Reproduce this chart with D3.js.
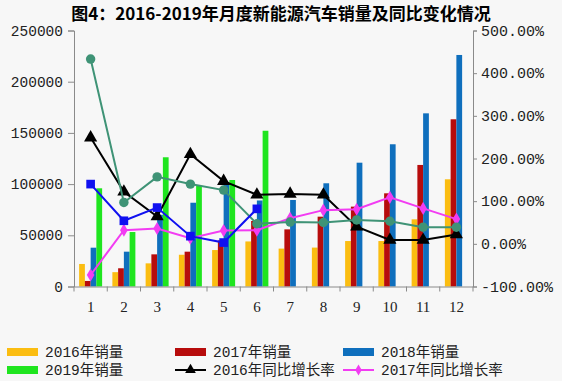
<!DOCTYPE html>
<html>
<head>
<meta charset="utf-8">
<script src="https://cdnjs.cloudflare.com/ajax/libs/d3/7.8.5/d3.min.js"></script>
<style>
    body { margin: 0; background: #f7f7f7; }
    .axis path, .axis line { stroke: #8a8a8a; }
    .axis text { fill: #222; }
</style>
</head>
<body>
<div id="chart"></div>
<script>
const months = ["1", "2", "3", "4", "5", "6", "7", "8", "9", "10", "11", "12"];
const sales2016 = [22000, 14000, 22600, 31000, 35600, 44000, 37000, 38000, 44400, 44400, 65600, 104700];
const sales2017 = [5400, 17800, 31400, 34000, 45000, 64000, 55800, 68200, 78000, 91000, 118700, 163300];
const sales2018 = [37900, 34000, 70000, 81800, 102000, 84000, 84500, 100800, 120900, 138900, 169100, 226100];
const sales2019 = [95900, 53200, 126200, 98400, 104000, 152100];
const growth2016 = [249, 122, 64, 210, 147, 115, 117, 115, 40, 9, 9, 22];
const growth2017 = [-73, 32, 36, 13, 31, 32, 60, 79, 81, 109, 83, 58];
const growth2018 = [433, 97, 157, 140, 126, 47, 51, 50, 56, 53, 39, 39];
const growth2019 = [140, 54, 85, 18, 3, 82];
const leftTicks = [0, 50000, 100000, 150000, 200000, 250000];
const rightTicks = [-100, 0, 100, 200, 300, 400, 500];

const W = 562, H = 381;
const plot = {left: 74, right: 473, top: 30.5, bottom: 286.5};

const svg = d3.select("#chart").append("svg")
    .attr("width", W).attr("height", H);

svg.append("text")
    .attr("x", 281).attr("y", 20)
    .attr("text-anchor", "middle")
    .style("font-family", "'Noto Sans CJK SC', sans-serif")
    .style("font-weight", "bold")
    .style("font-size", "17px")
    .text("图4：2016-2019年月度新能源汽车销量及同比变化情况");

const x0 = d3.scaleBand().domain(months).range([plot.left, plot.right]);
const seriesNames = ["2016年销量", "2017年销量", "2018年销量", "2019年销量"];
const barColors = ["#fbbd11", "#b70c0c", "#0f6fbd", "#1fe51f"];
const gap = (x0.bandwidth() - 23) / 2;
const x1 = d3.scaleBand().domain(seriesNames).range([gap, gap + 23]);
const yL = d3.scaleLinear().domain([0, 250000]).range([plot.bottom, plot.top]);
const yR = d3.scaleLinear().domain([-100, 500]).range([plot.bottom, plot.top]);

// bars
const barSeries = [sales2016, sales2017, sales2018, sales2019];
barSeries.forEach((vals, si) => {
    svg.append("g").selectAll("rect")
        .data(vals)
        .join("rect")
        .attr("x", (d, i) => x0(months[i]) + x1(seriesNames[si]))
        .attr("y", d => yL(d))
        .attr("width", x1.bandwidth())
        .attr("height", d => yL(0) - yL(d))
        .attr("fill", barColors[si]);
});

// axes
const monoFont = "'Liberation Mono', monospace";
svg.append("g")
    .attr("class", "axis")
    .attr("transform", `translate(${plot.left},0)`)
    .call(d3.axisLeft(yL).tickValues(leftTicks).tickSize(6).tickPadding(5).tickFormat(d3.format("d")))
    .selectAll("text")
    .style("font-family", monoFont)
    .style("font-size", "14.5px");

svg.append("g")
    .attr("class", "axis")
    .attr("transform", `translate(${plot.right},0)`)
    .call(d3.axisRight(yR).tickValues(rightTicks).tickSize(4).tickPadding(4).tickFormat(d => d.toFixed(2) + "%"))
    .selectAll("text")
    .style("font-family", monoFont)
    .style("font-size", "15px");

const xAxis = svg.append("g")
    .attr("class", "axis")
    .attr("transform", `translate(0,${plot.bottom})`)
    .call(d3.axisBottom(x0).tickSize(0).tickPadding(15));
xAxis.selectAll("text")
    .style("font-family", "'Liberation Serif', serif")
    .style("font-size", "15px");
// boundary ticks between months
xAxis.selectAll(".sep")
    .data(months.concat(["end"]))
    .join("line")
    .attr("class", "sep")
    .attr("x1", (d, i) => i < 12 ? x0(d) : plot.right)
    .attr("x2", (d, i) => i < 12 ? x0(d) : plot.right)
    .attr("y1", 0).attr("y2", 5);

// growth lines
const lineSeries = [
    {vals: growth2016, color: "#000000", shape: d3.symbolTriangle, size: 75},
    {vals: growth2017, color: "#f23cf2", shape: d3.symbolDiamond, size: 50},
    {vals: growth2018, color: "#3f9376", shape: d3.symbolCircle, size: 70},
    {vals: growth2019, color: "#1010f0", shape: d3.symbolSquare, size: 75}
];
const cx = i => x0(months[i]) + x0.bandwidth() / 2;
const line = d3.line().x((d, i) => cx(i)).y(d => yR(d));
lineSeries.forEach(s => {
    svg.append("path")
        .datum(s.vals)
        .attr("d", line)
        .attr("fill", "none")
        .attr("stroke", s.color)
        .attr("stroke-width", 2);
    svg.append("g").selectAll("path")
        .data(s.vals)
        .join("path")
        .attr("transform", (d, i) => `translate(${cx(i)},${yR(d)})`)
        .attr("d", d3.symbol().type(s.shape).size(s.size))
        .attr("fill", s.color);
});

// legend
const legendItems = [
    {label: "2016年销量", type: "bar", color: barColors[0]},
    {label: "2017年销量", type: "bar", color: barColors[1]},
    {label: "2018年销量", type: "bar", color: barColors[2]},
    {label: "2019年销量", type: "bar", color: barColors[3]},
    {label: "2016年同比增长率", type: "line", color: "#000000", shape: d3.symbolTriangle, size: 50},
    {label: "2017年同比增长率", type: "line", color: "#f23cf2", shape: d3.symbolDiamond, size: 36}
];
const colX = [7, 175, 343];
const rowY = [352, 370];
legendItems.forEach((it, i) => {
    const g = svg.append("g")
        .attr("transform", `translate(${colX[i % 3]},${rowY[Math.floor(i / 3)]})`);
    if (it.type === "bar") {
        g.append("rect").attr("x", 0).attr("y", -4).attr("width", 31).attr("height", 8).attr("fill", it.color);
    } else {
        g.append("line").attr("x1", 0).attr("x2", 31).attr("stroke", it.color).attr("stroke-width", 2);
        g.append("path").attr("transform", "translate(15.5,0)")
            .attr("d", d3.symbol().type(it.shape).size(it.size)).attr("fill", it.color);
    }
    g.append("text")
        .attr("x", 38).attr("y", 0).attr("dy", "0.35em")
        .style("font-family", "'Liberation Mono', 'Noto Sans CJK SC', monospace")
        .style("font-size", "14.5px")
        .style("fill", "#222")
        .text(it.label);
});
</script>
</body>
</html>
